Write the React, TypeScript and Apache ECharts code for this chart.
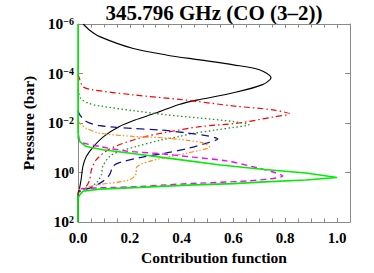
import React, { useEffect, useRef } from "react";
import * as echarts from "echarts";

// Contribution function (x) and log10 pressure in bar (y) for each curve
const blackCF = [0.02, 0.045, 0.084, 0.21, 0.34, 0.47, 0.6, 0.7, 0.745, 0.71, 0.6, 0.47, 0.39, 0.3, 0.22, 0.16, 0.1, 0.06, 0.032, 0.019, 0.012, 0.006, 0, 0];
const blackLogP = [-6.0, -5.75, -5.49, -5.02, -4.75, -4.55, -4.35, -4.15, -3.83, -3.54, -3.22, -2.95, -2.75, -2.4, -2.12, -1.86, -1.46, -1.05, -0.65, -0.25, 0.29, 0.63, 0.85, 2];

const redCF = [0, 0.003, 0.019, 0.058, 0.21, 0.405, 0.598, 0.752, 0.816, 0.752, 0.62, 0.47, 0.34, 0.24, 0.122, 0.071, 0.052, 0.045, 0.032, 0.007, 0];
const redLogP = [-3.95, -3.88, -3.47, -3.34, -3.14, -2.94, -2.69, -2.53, -2.37, -2.24, -2.0, -1.85, -1.62, -1.4, -0.95, -0.52, -0.11, 0.29, 0.56, 0.76, 0.85];

const dotCF = [0, 0.01, 0.04, 0.084, 0.212, 0.341, 0.469, 0.598, 0.66, 0.6, 0.534, 0.443, 0.392, 0.315, 0.225, 0.16, 0.122, 0.096, 0.09, 0.071, 0.032, 0];
const dotLogP = [-3.35, -3.0, -2.8, -2.69, -2.5, -2.33, -2.2, -2.06, -1.93, -1.82, -1.72, -1.58, -1.46, -1.3, -1.05, -0.85, -0.65, -0.25, 0.1, 0.42, 0.67, 0.8];

const blueCF = [0, 0.007, 0.032, 0.084, 0.212, 0.315, 0.42, 0.5, 0.54, 0.5, 0.43, 0.341, 0.238, 0.16, 0.135, 0.122, 0.096, 0.045, 0];
const blueLogP = [-2.5, -2.33, -2.06, -1.89, -1.78, -1.72, -1.6, -1.48, -1.35, -1.2, -0.99, -0.79, -0.6, -0.4, -0.25, 0.09, 0.36, 0.63, 0.75];

const orangeCF = [0, 0.007, 0.032, 0.084, 0.212, 0.33, 0.43, 0.49, 0.508, 0.47, 0.42, 0.276, 0.225, 0.225, 0.2, 0.084, 0.019, 0];
const orangeLogP = [-2.1, -1.99, -1.79, -1.59, -1.46, -1.4, -1.29, -1.17, -1.02, -0.9, -0.78, -0.45, -0.18, 0.02, 0.29, 0.49, 0.63, 0.7];

const magentaCF = [0, 0.007, 0.084, 0.186, 0.315, 0.443, 0.572, 0.688, 0.76, 0.79, 0.74, 0.624, 0.469, 0.34, 0.238, 0.084, 0];
const magentaLogP = [-1.5, -1.25, -1.05, -0.87, -0.76, -0.62, -0.47, -0.2, 0.0, 0.14, 0.26, 0.36, 0.43, 0.5, 0.57, 0.62, 0.67];

const limeCF = [0, 0, 0.007, 0.032, 0.096, 0.225, 0.392, 0.55, 0.72, 0.88, 1.0, 0.88, 0.72, 0.6, 0.45, 0.34, 0.238, 0.084, 0.019, 0.007, 0, 0];
const limeLogP = [-6, -1.6, -1.25, -1.05, -0.92, -0.75, -0.52, -0.3, -0.12, 0.02, 0.2, 0.3, 0.38, 0.45, 0.5, 0.55, 0.6, 0.67, 0.76, 0.9, 1.03, 2];

const yTickExponents = [-6, -4, -2, 0, 2];
const xTickLabels = ["0.0", "0.2", "0.4", "0.6", "0.8", "1.0"];

const titleText = "345.796 GHz (CO (3\u20132))";
const FONT = "'Liberation Serif', 'Times New Roman', serif";
const FRAME = "#8a8a8a";

const pair = (xs: number[], ys: number[]) => xs.map((x, i) => [x, ys[i]]);

export default function App() {
  const ref = useRef<HTMLDivElement>(null);
  useEffect(() => {
    if (!ref.current) return;
    const chart = echarts.init(ref.current, undefined, { renderer: "svg" });
    const mk = (name: string, xs: number[], ys: number[], color: string, type: any, width: number, smooth: number | boolean) => ({
      name,
      type: "line",
      data: pair(xs, ys),
      showSymbol: false,
      symbol: "none",
      smooth,
      lineStyle: { color, type, width },
      z: 3,
    });
    const xLabelFmt = (v: number) => {
      const idx = Math.round(v / 0.2);
      if (Math.abs(v - idx * 0.2) > 1e-6 || idx >= xTickLabels.length) return "";
      return xTickLabels[idx];
    };
    const yLabelFmt = (v: number) => {
      if (!yTickExponents.includes(Math.round(v))) return "";
      const e = Math.round(v);
      const s = e < 0 ? "\u2212" + Math.abs(e) : String(e);
      return "{b|10}{s|" + s + "}";
    };
    const axisCommon = {
      type: "value",
      axisLine: { show: true, onZero: false, lineStyle: { color: FRAME, width: 1 } },
      splitLine: { show: false },
    };
    chart.setOption({
      animation: false,
      backgroundColor: "#ffffff",
      graphic: [
        {
          type: "text",
          x: 214,
          y: 2,
          style: {
            text: titleText,
            fontFamily: FONT,
            fontWeight: "bold",
            fontSize: 21,
            fill: "#000",
            align: "center",
            verticalAlign: "top",
          },
        },
      ],
      grid: { left: 78, right: 24, top: 24, bottom: 51 },
      xAxis: [
        {
          ...axisCommon,
          position: "bottom",
          min: 0,
          max: 1.05,
          interval: 0.2,
          axisTick: { show: true, inside: true, length: 4, lineStyle: { color: FRAME } },
          minorTick: { show: true, splitNumber: 4, length: 3.5, lineStyle: { color: FRAME } },
          axisLabel: {
            formatter: xLabelFmt,
            margin: 8,
            fontFamily: FONT,
            fontWeight: "bold",
            fontSize: 15,
            color: "#000",
            showMaxLabel: false,
          },
          name: "Contribution function",
          nameLocation: "middle",
          nameGap: 22,
          nameTextStyle: { fontFamily: FONT, fontWeight: "bold", fontSize: 15.5, color: "#000" },
        },
        {
          ...axisCommon,
          position: "top",
          min: 0,
          max: 1.05,
          interval: 0.2,
          axisTick: { show: true, inside: true, length: 4, lineStyle: { color: FRAME } },
          minorTick: { show: true, splitNumber: 4, length: 3.5, lineStyle: { color: FRAME } },
          axisLabel: { show: false },
        },
      ],
      yAxis: [
        {
          ...axisCommon,
          position: "left",
          min: -6,
          max: 2,
          interval: 2,
          inverse: true,
          axisTick: { show: true, inside: true, length: 5, lineStyle: { color: FRAME } },
          axisLabel: {
            formatter: yLabelFmt,
            margin: 4,
            color: "#000",
            rich: {
              b: { fontFamily: FONT, fontWeight: "bold", fontSize: 15.5, color: "#000", verticalAlign: "bottom", lineHeight: 15 },
              s: { fontFamily: FONT, fontWeight: "bold", fontSize: 10, color: "#000", verticalAlign: "top", lineHeight: 15 },
            },
          },
          name: "Pressure (bar)",
          nameLocation: "middle",
          nameGap: 38,
          nameRotate: 90,
          nameTextStyle: { fontFamily: FONT, fontWeight: "bold", fontSize: 15.5, color: "#000" },
        },
        {
          ...axisCommon,
          position: "right",
          min: -6,
          max: 2,
          interval: 2,
          inverse: true,
          axisTick: { show: true, inside: true, length: 5, lineStyle: { color: FRAME } },
          axisLabel: { show: false },
        },
      ],
      series: [
        mk("black", blackCF, blackLogP, "#000000", "solid", 1.1, 0.3),
        mk("red", redCF, redLogP, "#ff0000", [6, 3, 1.5, 3], 1.2, 0.3),
        mk("green", dotCF, dotLogP, "#1f8f1f", [1.5, 2.5], 1.3, 0.3),
        mk("blue", blueCF, blueLogP, "#14148c", [8, 5], 1.3, 0.3),
        mk("orange", orangeCF, orangeLogP, "#ff8c1a", [5, 2, 1.5, 2, 1.5, 2], 1.2, 0.3),
        mk("magenta", magentaCF, magentaLogP, "#ff00ff", [6, 4], 1.4, 0.3),
        mk("lime", limeCF, limeLogP, "#00ee00", "solid", 1.6, false),
      ],
    });
    return () => chart.dispose();
  }, []);
  return <div ref={ref} style={{ width: 374, height: 273, position: "absolute", left: 0, top: 0 }} />;
}
